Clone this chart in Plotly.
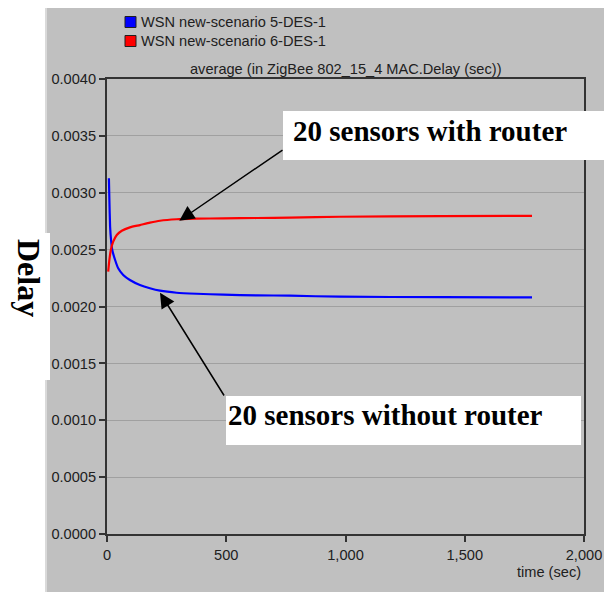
import plotly.graph_objects as go

# ---- data ----
t_blue = [8, 10, 13, 17, 22, 34, 47, 68, 96, 138, 180, 222, 292, 376, 488, 628,
          767, 977, 1400, 1782]
d_blue = [0.003127, 0.002936, 0.002701, 0.002585, 0.002497, 0.002409, 0.002336,
          0.002277, 0.002233, 0.002189, 0.002160, 0.002139, 0.002121, 0.002112,
          0.002104, 0.002098, 0.002095, 0.002086, 0.002082, 0.002080]
t_red = [5, 10, 16, 26, 41, 62, 96, 138, 180, 222, 292, 376, 488, 628, 767, 977,
         1400, 1782]
d_red = [0.002306, 0.002409, 0.002497, 0.002570, 0.002629, 0.002666, 0.002696,
         0.002716, 0.002737, 0.002754, 0.002767, 0.002772, 0.002775, 0.002778,
         0.002781, 0.002789, 0.002795, 0.002797]
series_names = ["WSN new-scenario 5-DES-1", "WSN new-scenario 6-DES-1"]
series_colors = ["#0000ff", "#ff0000"]
x_ticks = [0, 500, 1000, 1500, 2000]
x_tick_text = ["0", "500", "1,000", "1,500", "2,000"]
y_ticks = [0.0, 0.0005, 0.0010, 0.0015, 0.0020, 0.0025, 0.0030, 0.0035, 0.0040]
title_text = "average (in ZigBee 802_15_4 MAC.Delay (sec))"
x_title = "time (sec)"
y_title = "Delay"
note_with = "20 sensors with router"
note_without = "20 sensors without router"

W, H = 612, 592
OFF = 8                       # page body margin
L, R, T, B = 107, 584, 79, 534  # plot area in page pixels


def px(x):
    return (x - L) / (R - L)


def py(y):
    return (B - y) / (B - T)


fig = go.Figure()
fig.add_trace(go.Scatter(x=t_blue, y=d_blue, mode="lines", name=series_names[0],
                         line=dict(color=series_colors[0], width=2.2, shape="spline", smoothing=0.5)))
fig.add_trace(go.Scatter(x=t_red, y=d_red, mode="lines", name=series_names[1],
                         line=dict(color=series_colors[1], width=2.2, shape="spline", smoothing=0.5)))

shapes = [
    dict(type="rect", xref="paper", yref="paper", x0=px(46), x1=px(640), y0=py(6), y1=py(620),
         fillcolor="#c0c0c0", line=dict(color="#dadada", width=2), layer="below"),
    dict(type="rect", xref="paper", yref="paper", x0=px(-5), x1=px(50), y0=py(233), y1=py(380),
         fillcolor="white", line=dict(width=0), layer="above"),
    dict(type="rect", xref="paper", yref="paper", x0=px(283), x1=px(620), y0=py(111), y1=py(160),
         fillcolor="white", line=dict(width=0), layer="above"),
    dict(type="rect", xref="paper", yref="paper", x0=px(226), x1=px(581), y0=py(396), y1=py(445),
         fillcolor="white", line=dict(width=0), layer="above"),
]
for i, c in enumerate(series_colors):
    yc = 22 + 19 * i
    shapes.append(dict(type="rect", xref="paper", yref="paper", x0=px(125), x1=px(136),
                       y0=py(yc - 5.5), y1=py(yc + 5.5), fillcolor=c,
                       line=dict(color="#202020", width=1), layer="above"))

sans = dict(family="Liberation Sans, Arial", size=14.6, color="#202020")
serif_b = dict(family="Liberation Serif, Times New Roman", size=29, color="black")

annotations = []
for i, n in enumerate(series_names):
    yc = 22 + 19 * i
    annotations.append(dict(text=n, xref="paper", yref="paper", x=px(139), y=py(yc),
                            xanchor="left", yanchor="middle", showarrow=False, font=sans))
annotations += [
    dict(text=title_text, xref="paper", yref="paper", x=px((L + R) / 2), y=py(69),
         xanchor="center", yanchor="middle", showarrow=False, font=sans),
    dict(text=x_title, xref="paper", yref="paper", x=px(583), y=py(572),
         xanchor="right", yanchor="middle", showarrow=False, font=sans),
    dict(text="<b>%s</b>" % y_title, xref="paper", yref="paper", x=px(29), y=py(278),
         xanchor="center", yanchor="middle", showarrow=False, textangle=90, borderpad=0,
         font=dict(family="Liberation Serif, Times New Roman", size=32, color="black")),
    dict(text="", xref="paper", yref="paper", x=px(179.3), y=py(220.7), ax=104.7, ay=-71.7,
         showarrow=True, arrowhead=2, arrowsize=2, arrowwidth=1.5, arrowcolor="black"),
    dict(text="", xref="paper", yref="paper", x=px(160), y=py(292.7), ax=65, ay=104.3,
         showarrow=True, arrowhead=2, arrowsize=2, arrowwidth=1.5, arrowcolor="black"),
    dict(text="<b>%s</b>" % note_with, xref="paper", yref="paper", x=px(291), y=py(131),
         xanchor="left", yanchor="middle", showarrow=False, font=serif_b),
    dict(text="<b>%s</b>" % note_without, xref="paper", yref="paper", x=px(226), y=py(415),
         xanchor="left", yanchor="middle", showarrow=False, font=serif_b),
]

fig.update_layout(
    width=W, height=H,
    margin=dict(l=L - OFF, r=W - (R - OFF), t=T - OFF, b=H - (B - OFF), pad=0),
    paper_bgcolor="white",
    plot_bgcolor="#f0f0f0",
    showlegend=False,
    shapes=shapes,
    annotations=annotations,
    xaxis=dict(range=[0, 2000], tickvals=x_ticks, ticktext=x_tick_text, showgrid=False,
               zeroline=False, showline=True, linecolor="#333333", linewidth=2, mirror=True,
               ticks="outside", ticklen=6, tickcolor="#333333", tickwidth=1.5, tickfont=sans),
    yaxis=dict(range=[0, 0.004], tickvals=y_ticks, tickformat=".4f", showgrid=True,
               gridcolor="#a0a0a0", gridwidth=1.2, zeroline=False, showline=True,
               linecolor="#333333", linewidth=2, mirror=True,
               ticks="outside", ticklen=6, tickcolor="#333333", tickwidth=1.5, tickfont=sans),
)

fig.write_html("out.html")
